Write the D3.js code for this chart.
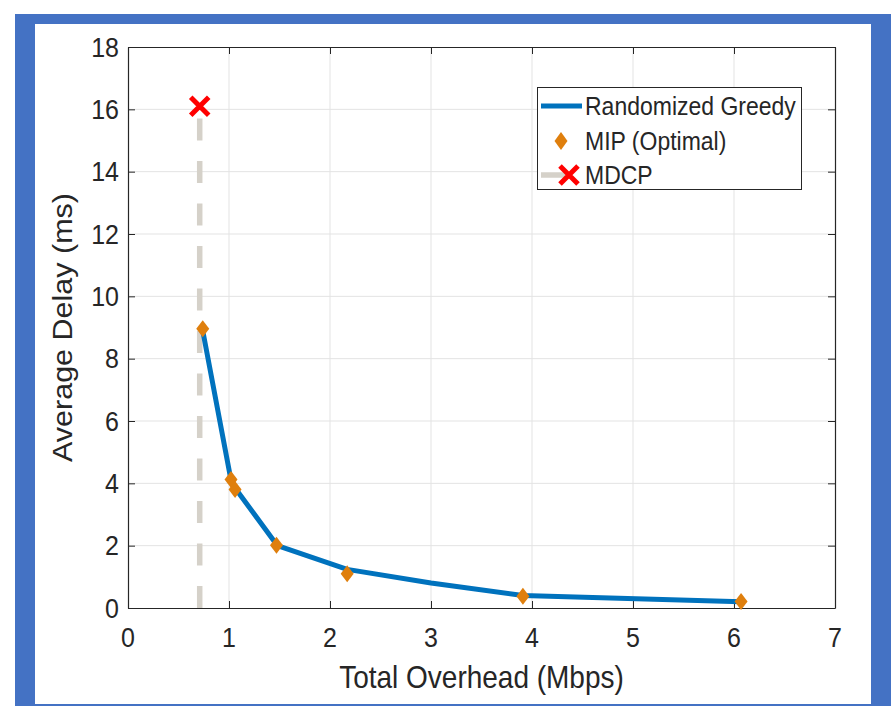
<html><head>
  <script src="https://d3js.org/d3.v7.min.js"></script>
  <style>
    body { margin: 0; background: #ffffff; }
    text { font-family: 'Liberation Sans', Arial, sans-serif; fill: #262626; }
  </style>
</head>
<body>
  <script>
    // Data
    const greedyX = [0.74, 1.02, 1.06, 1.48, 2.17, 3.00, 3.91, 6.07]
    const greedyY = [8.90, 4.10, 3.85, 2.00, 1.24, 0.80, 0.40, 0.20]
    const mipX = [0.74, 1.02, 1.06, 1.47, 2.17, 3.91, 6.07]
    const mipY = [8.96, 4.12, 3.80, 2.01, 1.10, 0.38, 0.21]
    const mdcpX = [0.71]
    const mdcpY = [16.1]
    const xTicks = [0, 1, 2, 3, 4, 5, 6, 7]
    const yTicks = [0, 2, 4, 6, 8, 10, 12, 14, 16, 18]
    const legendLabels = ["Randomized Greedy", "MIP (Optimal)", "MDCP"]

    const W = 891, H = 706
    const stretch = 1.09   // the reference text is drawn a bit taller than wide
    const svg = d3.select("body").append("svg")
                  .attr("width", W)
                  .attr("height", H)

    // blue frame
    svg.append("rect").attr("x", 15).attr("y", 14).attr("width", W - 15).attr("height", H - 14)
       .attr("fill", "#4472C4")
    svg.append("rect").attr("x", 35).attr("y", 24).attr("width", 836).attr("height", 680)
       .attr("fill", "#ffffff")

    const pLeft = 128, pRight = 835, pTop = 47, pBottom = 608
    const x = d3.scaleLinear().domain([0, 7]).range([pLeft, pRight])
    const y = d3.scaleLinear().domain([0, 18]).range([pBottom, pTop])

    // grid
    svg.append("g").selectAll("line").data(xTicks.slice(1, -1)).join("line")
       .attr("x1", d => x(d)).attr("x2", d => x(d))
       .attr("y1", pTop).attr("y2", pBottom)
       .attr("stroke", "#e3e3e3").attr("stroke-width", 1)
    svg.append("g").selectAll("line").data(yTicks.slice(1, -1)).join("line")
       .attr("x1", pLeft).attr("x2", pRight)
       .attr("y1", d => y(d)).attr("y2", d => y(d))
       .attr("stroke", "#e3e3e3").attr("stroke-width", 1)

    // axes (ticks point inward, box on), labels drawn separately
    const tickLen = 7
    const xAxis = svg.append("g").attr("transform", `translate(0,${pBottom})`)
                     .call(d3.axisBottom(x).tickValues(xTicks).tickSizeInner(-tickLen).tickSizeOuter(0).tickFormat(""))
    const yAxis = svg.append("g").attr("transform", `translate(${pLeft},0)`)
                     .call(d3.axisLeft(y).tickValues(yTicks).tickSizeInner(-tickLen).tickSizeOuter(0).tickFormat(""))
    const xTop = svg.append("g").attr("transform", `translate(0,${pTop})`)
                    .call(d3.axisTop(x).tickValues(xTicks).tickSizeInner(-tickLen).tickSizeOuter(0).tickFormat(""))
    const yRight = svg.append("g").attr("transform", `translate(${pRight},0)`)
                      .call(d3.axisRight(y).tickValues(yTicks).tickSizeInner(-tickLen).tickSizeOuter(0).tickFormat(""))
    ;[xAxis, yAxis, xTop, yRight].forEach(g => {
      g.selectAll("path").attr("stroke", "#262626").attr("stroke-width", 1.2)
      g.selectAll("line").attr("stroke", "#262626").attr("stroke-width", 1)
    })

    // tick labels
    svg.append("g").selectAll("text").data(xTicks).join("text")
       .attr("transform", d => `translate(${x(d)},647) scale(1,${stretch})`)
       .attr("text-anchor", "middle")
       .style("font-size", "25px")
       .text(d3.format("d"))
    svg.append("g").selectAll("text").data(yTicks).join("text")
       .attr("transform", d => `translate(119,${y(d) + 9.5}) scale(1,${stretch})`)
       .attr("text-anchor", "end")
       .style("font-size", "25px")
       .text(d3.format("d"))

    // axis labels
    svg.append("text").attr("transform", `translate(${(pLeft + pRight) / 2},688) scale(1,${stretch})`)
       .attr("text-anchor", "middle").style("font-size", "28px")
       .text("Total Overhead (Mbps)")
    svg.append("text").attr("transform", `translate(72,${(pTop + pBottom) / 2}) rotate(-90) scale(${stretch},1)`)
       .attr("text-anchor", "middle").style("font-size", "28px")
       .text("Average Delay (ms)")

    // MDCP dashed line + marker
    svg.append("line")
       .attr("x1", x(mdcpX[0])).attr("x2", x(mdcpX[0]))
       .attr("y1", y(0)).attr("y2", y(mdcpY[0]))
       .attr("stroke", "#d5d1c9").attr("stroke-width", 5.5)
       .attr("stroke-dasharray", "22,20.5")

    // greedy line
    const pts = greedyX.map((d, i) => [d, greedyY[i]])
    svg.append("path").datum(pts)
       .attr("d", d3.line().x(d => x(d[0])).y(d => y(d[1])))
       .attr("fill", "none").attr("stroke", "#0072BD").attr("stroke-width", 5)
       .attr("stroke-linejoin", "round")

    // MIP diamonds
    const diamond = (cx, cy, w, h) => `M${cx},${cy - h}L${cx + w},${cy}L${cx},${cy + h}L${cx - w},${cy}Z`
    svg.append("g").selectAll("path").data(mipX).join("path")
       .attr("d", (d, i) => diamond(x(d), y(mipY[i]), 6.5, 8.5))
       .attr("fill", "#DF7F0D")

    // red x
    const cross = (cx, cy, r) => `M${cx - r},${cy - r}L${cx + r},${cy + r}M${cx - r},${cy + r}L${cx + r},${cy - r}`
    svg.append("path").attr("d", cross(x(mdcpX[0]), y(mdcpY[0]), 9))
       .attr("stroke", "#ff0000").attr("stroke-width", 5).attr("fill", "none")

    // legend
    const lg = svg.append("g")
    lg.append("rect").attr("x", 537.5).attr("y", 87.5).attr("width", 264).attr("height", 102)
      .attr("fill", "#ffffff").attr("stroke", "#262626").attr("stroke-width", 1)
    const rows = [106, 141, 175]
    lg.append("line").attr("x1", 541).attr("x2", 582).attr("y1", rows[0]).attr("y2", rows[0])
      .attr("stroke", "#0072BD").attr("stroke-width", 5)
    lg.append("path").attr("d", diamond(561, rows[1], 6.5, 9)).attr("fill", "#DF7F0D")
    lg.append("line").attr("x1", 541).attr("x2", 570).attr("y1", rows[2]).attr("y2", rows[2])
      .attr("stroke", "#d5d1c9").attr("stroke-width", 5.5)
    lg.append("path").attr("d", cross(569, rows[2], 9))
      .attr("stroke", "#ff0000").attr("stroke-width", 5).attr("fill", "none")
    lg.selectAll("text.lab").data(legendLabels).join("text")
      .attr("class", "lab")
      .attr("transform", (d, i) => `translate(585,${rows[i] + 8.5}) scale(1,${stretch})`)
      .style("font-size", "23px")
      .text(d => d)
  </script>
</body></html>
